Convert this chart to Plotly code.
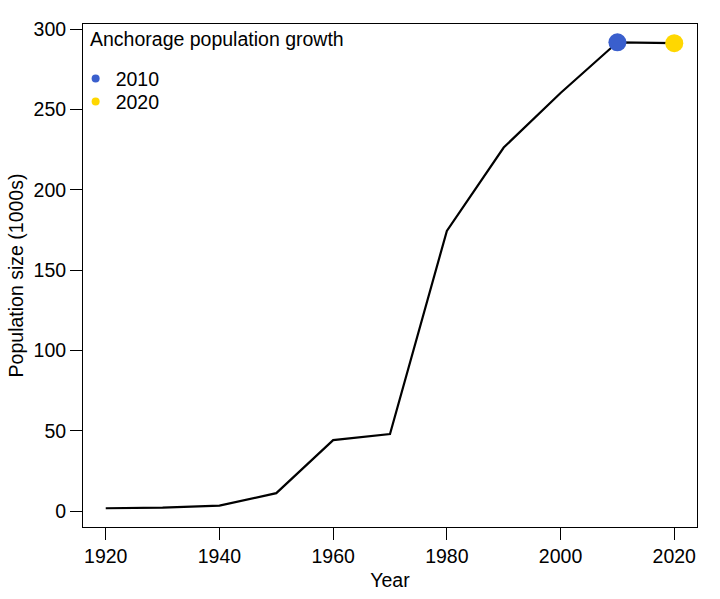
import plotly.graph_objects as go

years = [1920, 1930, 1940, 1950, 1960, 1970, 1980, 1990, 2000, 2010, 2020]
population = [1.856, 2.277, 3.495, 11.254, 44.237, 48.081, 174.431, 226.338, 260.283, 291.826, 291.247]
highlight_years = ["2010", "2020"]
highlight_colors = ["#3A5FCD", "#FFD700"]
x_ticks = [1920, 1940, 1960, 1980, 2000, 2020]
y_ticks = [0, 50, 100, 150, 200, 250, 300]

FONT = "Liberation Sans, Arial, sans-serif"
FS = 19.5

fig = go.Figure()
fig.add_trace(go.Scatter(x=years, y=population, mode="lines",
                         line=dict(color="black", width=2.2), showlegend=False, hoverinfo="skip"))
legend_ids = ["legend", "legend2"]
for lbl, col, lg in zip(highlight_years, highlight_colors, legend_ids):
    i = years.index(int(lbl))
    fig.add_trace(go.Scatter(x=[years[i]], y=[population[i]], mode="markers",
                             marker=dict(color=col, size=18), showlegend=False))
    fig.add_trace(go.Scatter(x=[None], y=[None], mode="markers", name=lbl, legend=lg,
                             marker=dict(color=col, size=8)))

axis_common = dict(showline=True, linecolor="black", linewidth=1, mirror=True,
                   ticks="outside", ticklen=12, tickwidth=1, tickcolor="black",
                   showgrid=False, zeroline=False,
                   tickfont=dict(family=FONT, size=FS, color="black"))

legend_common = dict(x=-0.012, xanchor="left", yanchor="top",
                     bgcolor="rgba(0,0,0,0)", font=dict(family=FONT, size=FS),
                     itemsizing="trace")

fig.update_layout(
    width=720, height=599,
    margin=dict(l=83, r=23, t=24, b=72),
    paper_bgcolor="white", plot_bgcolor="white",
    font=dict(family=FONT, color="black"),
    xaxis=dict(range=[1916, 2024], tickvals=x_ticks, **axis_common,
               title=dict(text="Year", font=dict(family=FONT, size=FS), standoff=6)),
    yaxis=dict(range=[-9.8, 303.2], tickvals=y_ticks, **axis_common,
               title=dict(text="Population size (1000s)", font=dict(family=FONT, size=FS), standoff=4)),
    legend=dict(y=0.93, **legend_common),
    legend2=dict(y=0.884, **legend_common),
    annotations=[dict(text="Anchorage population growth", xref="paper", yref="paper",
                      x=0.008, y=0.997, xanchor="left", yanchor="top", showarrow=False,
                      font=dict(family=FONT, size=FS, color="black"))],
)

fig.write_html("out.html")
